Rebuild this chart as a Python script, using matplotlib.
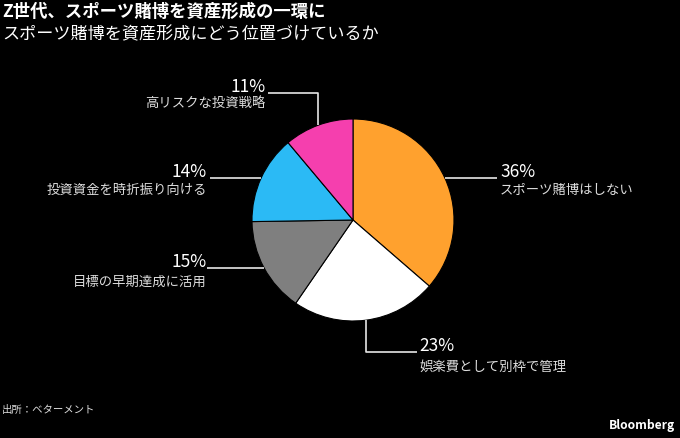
import numpy as np
import matplotlib
matplotlib.use("Agg")
import matplotlib.pyplot as plt

plt.rcParams['font.family'] = ['Noto Sans CJK JP', 'DejaVu Sans']

labels = ['スポーツ賭博はしない', '娯楽費として別枠で管理', '目標の早期達成に活用',
          '投資資金を時折振り向ける', '高リスクな投資戦略']
shares = [36, 23, 15, 14, 11]
colors = ['#ffa12e', '#ffffff', '#7f7f7f', '#2bbaf5', '#f53fae']

W, H = 680, 438
fig = plt.figure(figsize=(W / 100, H / 100), dpi=100, facecolor='black')
ax = fig.add_axes([0, 0, 1, 1])
ax.set_facecolor('black')
ax.set_xlim(0, W)
ax.set_ylim(0, H)
ax.axis('off')

def Y(p):
    return H - p

cx, cy, r = 353, Y(220), 101
wedges, _ = ax.pie(shares, colors=colors, startangle=90, counterclock=False,
                   center=(cx, cy), radius=r,
                   wedgeprops=dict(edgecolor='black', linewidth=0.8))
ax.set_xlim(0, W)
ax.set_ylim(0, H)
ax.set_aspect('equal')

# leader line routes: (kind, elbow coords), text anchor, alignment
routes = [
    ('h', 497, None, (500, 172, 190, 'left')),
    ('v', 352, 417, (419, 346, 367, 'left')),
    ('h', 207, None, (207, 262, 282, 'right')),
    ('h', 210, None, (207, 172, 190, 'right')),
    ('v', 93, 268, (266, 87, 104, 'right')),
]
lc = '#e6e6e6'
for w, s, lab, (kind, a, b, (tx, ty1, ty2, ha)) in zip(wedges, shares, labels, routes):
    ang = np.deg2rad((w.theta1 + w.theta2) / 2)
    x0, y0 = cx + r * np.cos(ang), cy + r * np.sin(ang)
    if kind == 'h':
        ax.plot([x0, a], [y0, y0], color=lc, lw=1.2, solid_capstyle='butt')
    else:
        ax.plot([x0, x0, b], [y0, Y(a), Y(a)], color=lc, lw=1.2, solid_capstyle='butt')
    ax.text(tx, Y(ty1), f'{s}%', color='white', fontsize=12.5, ha=ha, va='center')
    ax.text(tx, Y(ty2), lab, color='#dddddd', fontsize=9.6, ha=ha, va='center')

fig.text(2 / W, 1 - 12 / H, 'Z世代、スポーツ賭博を資産形成の一環に', color='white',
         fontsize=12.5, fontweight='bold', ha='left', va='center')
fig.text(2 / W, 1 - 34 / H, 'スポーツ賭博を資産形成にどう位置づけているか', color='white',
         fontsize=12.3, ha='left', va='center')
fig.text(2 / W, 1 - 410 / H, '出所：ベターメント', color='#dddddd',
         fontsize=7.5, ha='left', va='center')
fig.text(675 / W, 1 - 426 / H, 'Bloomberg', color='white',
         fontsize=8.7, fontweight='bold', ha='right', va='center')

fig.savefig('out.png', dpi=100, facecolor='black')
